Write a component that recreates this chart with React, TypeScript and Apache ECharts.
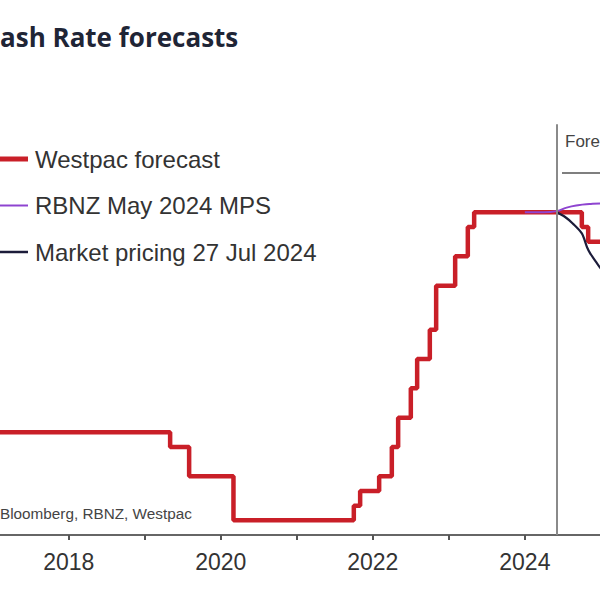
import React, { useEffect, useRef } from "react";
import * as echarts from "echarts";

// Westpac forecast (OCR %), change points by month
const westpacDates = [
  "2016-10", "2019-05", "2019-08", "2020-03", "2021-10", "2021-11", "2022-02",
  "2022-04", "2022-05", "2022-07", "2022-08", "2022-10", "2022-11", "2023-02",
  "2023-04", "2023-05", "2024-10", "2024-11", "2025-02",
];
const westpacValues = [
  1.75, 1.5, 1.0, 0.25, 0.5, 0.75, 1.0,
  1.5, 2.0, 2.5, 3.0, 3.5, 4.25, 4.75,
  5.25, 5.5, 5.25, 5.0, 4.75,
];

// RBNZ May 2024 MPS track (decimal years)
const rbnzYears = [2024.0, 2024.25, 2024.42, 2024.55, 2024.7, 2024.85, 2025.0, 2025.15];
const rbnzValues = [5.5, 5.5, 5.52, 5.58, 5.62, 5.64, 5.65, 5.65];

// Market pricing 27 Jul 2024 (decimal years)
const marketYears = [2024.42, 2024.53, 2024.63, 2024.75, 2024.82, 2024.86, 2024.95, 2025.0, 2025.1];
const marketValues = [5.5, 5.42, 5.31, 5.14, 4.9, 4.8, 4.63, 4.54, 4.38];

const tickYears = [2018, 2019, 2020, 2021, 2022, 2023, 2024];
const labelYears = [2018, 2020, 2022, 2024];
const forecastStart = 2024.42;

const seriesNames = ["Westpac forecast", "RBNZ May 2024 MPS", "Market pricing 27 Jul 2024"];
const seriesColors = ["#c91f28", "#8e44d0", "#1c1c3a"];
const legendWidths = [5, 2, 2.5];

const toYear = (s: string) => {
  const [y, m] = s.split("-").map(Number);
  return y + (m - 1) / 12;
};

export default function App() {
  const ref = useRef<HTMLDivElement>(null);
  useEffect(() => {
    document.body.style.margin = "0";
    if (!ref.current) return;
    const chart = echarts.init(ref.current, undefined, { renderer: "svg" });
    const font = "Liberation Sans";
    const legendGraphics: any[] = [];
    seriesNames.forEach((name, i) => {
      const cy = 159 + i * 46.5;
      legendGraphics.push({
        type: "line",
        shape: { x1: 0, y1: cy, x2: 28, y2: cy },
        style: { stroke: seriesColors[i], lineWidth: legendWidths[i] },
      });
      legendGraphics.push({
        type: "text",
        x: 35,
        y: cy,
        style: {
          text: name,
          font: `24px '${font}'`,
          fill: "#333333",
          verticalAlign: "middle",
        },
      });
    });
    chart.setOption({
      animation: false,
      backgroundColor: "#ffffff",
      grid: { left: 0, right: 0, top: 124.3, bottom: 65, containLabel: false },
      xAxis: {
        type: "value",
        min: 2017.095,
        max: 2024.989,
        splitLine: { show: false },
        axisLine: { show: true, lineStyle: { color: "#666666", width: 2 } },
        axisTick: {
          show: true,
          customValues: tickYears,
          length: 5,
          lineStyle: { color: "#555555", width: 2 },
        },
        axisLabel: {
          customValues: labelYears,
          fontSize: 23,
          fontFamily: font,
          color: "#333333",
          margin: 15,
          formatter: (v: number) => String(Math.round(v)),
        },
      },
      yAxis: { type: "value", min: 0, max: 7, show: false },
      series: [
        {
          name: seriesNames[0],
          type: "line",
          step: "end",
          symbol: "none",
          data: westpacDates.map((d, i) => [toYear(d), westpacValues[i]]),
          lineStyle: { color: seriesColors[0], width: 4.5 },
          itemStyle: { color: seriesColors[0] },
          z: 2,
          markLine: {
            silent: true,
            symbol: "none",
            label: { show: false },
            lineStyle: { color: "#8a8a8a", width: 2, type: "solid" },
            data: [{ xAxis: forecastStart }],
          },
        },
        {
          name: seriesNames[1],
          type: "line",
          smooth: true,
          symbol: "none",
          data: rbnzYears.map((x, i) => [x, rbnzValues[i]]),
          lineStyle: { color: seriesColors[1], width: 2 },
          itemStyle: { color: seriesColors[1] },
          z: 3,
        },
        {
          name: seriesNames[2],
          type: "line",
          smooth: 0.3,
          symbol: "none",
          data: marketYears.map((x, i) => [x, marketValues[i]]),
          lineStyle: { color: seriesColors[2], width: 2.2 },
          itemStyle: { color: seriesColors[2] },
          z: 4,
        },
      ],
      graphic: [
        {
          type: "text",
          x: 0,
          y: 37,
          style: {
            text: "ash Rate forecasts",
            font: "bold 26px 'Open Sans'",
            fill: "#1f2536",
            verticalAlign: "middle",
          },
        },
        {
          type: "text",
          x: 0,
          y: 513,
          style: {
            text: "Bloomberg, RBNZ, Westpac",
            font: `15.3px '${font}'`,
            fill: "#444444",
            verticalAlign: "middle",
          },
        },
        {
          type: "text",
          x: 565,
          y: 141,
          style: {
            text: "Fore",
            font: `17px '${font}'`,
            fill: "#444444",
            verticalAlign: "middle",
          },
        },
        {
          type: "line",
          shape: { x1: 562, y1: 173, x2: 600, y2: 173 },
          style: { stroke: "#555555", lineWidth: 1.5 },
        },
        ...legendGraphics,
      ],
    });
    return () => chart.dispose();
  }, []);
  return <div ref={ref} style={{ width: 600, height: 600 }} />;
}
